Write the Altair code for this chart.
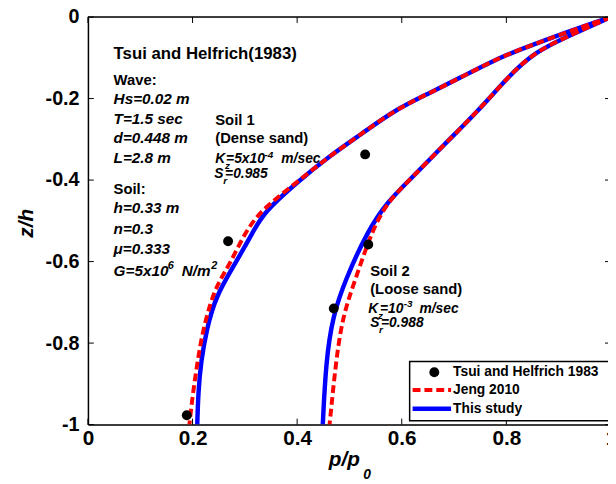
import altair as alt
import pandas as pd

# ---------------- data ----------------
# Soil 1 (dense sand)
s1_study_p = [1.0, 0.92, 0.851, 0.794, 0.713, 0.649, 0.587, 0.524, 0.461, 0.398, 0.336, 0.317, 0.282, 0.244, 0.227, 0.216, 0.211, 0.209]
s1_study_z = [0.0, -0.035, -0.068, -0.095, -0.148, -0.189, -0.228, -0.286, -0.342, -0.407, -0.48, -0.524, -0.604, -0.686, -0.766, -0.846, -0.92, -1.0]
s1_jeng_p = [1.0, 0.92, 0.851, 0.794, 0.713, 0.649, 0.587, 0.524, 0.461, 0.398, 0.33, 0.3, 0.272, 0.25, 0.234, 0.218, 0.209, 0.2, 0.194]
s1_jeng_z = [0.0, -0.035, -0.068, -0.095, -0.148, -0.189, -0.228, -0.286, -0.342, -0.407, -0.475, -0.53, -0.604, -0.65, -0.7, -0.78, -0.85, -0.93, -1.0]
# Soil 2 (loose sand)
s2_study_p = [1.0, 0.932, 0.851, 0.8, 0.744, 0.681, 0.619, 0.574, 0.535, 0.492, 0.468, 0.455, 0.449]
s2_study_z = [0.0, -0.039, -0.087, -0.152, -0.233, -0.313, -0.395, -0.451, -0.524, -0.645, -0.734, -0.846, -1.0]
s2_jeng_p = [1.0, 0.932, 0.851, 0.8, 0.744, 0.681, 0.619, 0.574, 0.543, 0.511, 0.487, 0.474, 0.462]
s2_jeng_z = [0.0, -0.039, -0.087, -0.152, -0.233, -0.313, -0.395, -0.451, -0.524, -0.645, -0.734, -0.846, -1.0]
# Measurements, Tsui and Helfrich 1983
obs_p = [0.189, 0.268, 0.530, 0.536, 0.470]
obs_z = [-0.977, -0.55, -0.337, -0.558, -0.715]

x_ticks = [0, 0.2, 0.4, 0.6, 0.8, 1.0]
y_ticks = [-1.0, -0.8, -0.6, -0.4, -0.2, 0.0]

legend_labels = ["Tsui and Helfrich 1983", "Jeng 2010", "This study"]

FONT = "Liberation Sans"
W, H = 527, 413
XR = 530  # pixel length of the x range (right edge is cut by the page)

# ---------------- tables ----------------
def curve(ps, zs, soil):
    return pd.DataFrame({"p": ps, "z": zs, "soil": soil, "i": range(len(ps))})

study = pd.concat([curve(s1_study_p, s1_study_z, "1"), curve(s2_study_p, s2_study_z, "2")])
jeng = pd.concat([curve(s1_jeng_p, s1_jeng_z, "1"), curve(s2_jeng_p, s2_jeng_z, "2")])
obs = pd.DataFrame({"p": obs_p, "z": obs_z})
xt = pd.DataFrame({"t": x_ticks})
yt = pd.DataFrame({"t": y_ticks})
one = pd.DataFrame({"a": [0]})

xscale = alt.Scale(domain=[0, 1], range=[0, XR], nice=False, zero=False)
yscale = alt.Scale(domain=[-1, 0], nice=False, zero=False)

xaxis = alt.Axis(values=x_ticks, ticks=False, grid=False, domain=True, domainColor="black",
                 domainWidth=1.5, labelFont=FONT, labelFontSize=21, labelFontWeight="bold",
                 labelColor="black", labelPadding=3, title=None, labelFlush=False,
                 labelExpr="replace(format(datum.value, '.1~f'), '\u2212', '-')")
yaxis = alt.Axis(values=y_ticks, ticks=False, grid=False, domain=True, domainColor="black",
                 domainWidth=1.5, labelFont=FONT, labelFontSize=20, labelFontWeight="bold",
                 labelColor="black", labelPadding=9, title=None, labelFlush=False,
                 labelExpr="replace(format(datum.value, '.1~f'), '\u2212', '-')")

blue_line = alt.Chart(study).mark_line(color="#0000ff", strokeWidth=4.5, clip=True,
                                       interpolate="basis").encode(
    x=alt.X("p:Q", scale=xscale, axis=xaxis),
    y=alt.Y("z:Q", scale=yscale, axis=yaxis),
    detail="soil:N",
    order="i:Q",
)
red_line = alt.Chart(jeng).mark_line(color="#ff0000", strokeWidth=4, strokeDash=[8, 4], clip=True,
                                     interpolate="basis").encode(
    x="p:Q", y="z:Q", detail="soil:N", order="i:Q"
)
dots = alt.Chart(obs).mark_circle(color="black", opacity=1, size=100).encode(x="p:Q", y="z:Q")

# inward tick marks on all four sides + top border
tk = 6
t_bottom = alt.Chart(xt).mark_rule(color="black", strokeWidth=1).encode(
    x="t:Q", y=alt.value(H), y2=alt.value(H - tk))
t_top = alt.Chart(xt).mark_rule(color="black", strokeWidth=1).encode(
    x="t:Q", y=alt.value(0), y2=alt.value(tk))
t_left = alt.Chart(yt).mark_rule(color="black", strokeWidth=1).encode(
    y="t:Q", x=alt.value(0), x2=alt.value(tk))
t_right = alt.Chart(yt).mark_rule(color="black", strokeWidth=1).encode(
    y="t:Q", x=alt.value(XR), x2=alt.value(XR - tk))
top_border = alt.Chart(one).mark_rule(color="black", strokeWidth=1.5).encode(
    x=alt.value(0), x2=alt.value(XR + 5), y=alt.value(0))


def txt(s, x, y, size=16, style="normal", weight="bold", angle=0, align="left", baseline="alphabetic"):
    return alt.Chart(one).mark_text(
        text=s, font=FONT, fontSize=size, fontStyle=style, fontWeight=weight,
        align=align, baseline=baseline, angle=angle, color="black"
    ).encode(x=alt.value(x), y=alt.value(y))


I = "italic"
texts = [
    txt("Tsui and Helfrich(1983)", 26, 43, 17),
    txt("Wave:", 26, 69, 15),
    txt("Hs=0.02 m", 26, 88, 15.5, I),
    txt("T=1.5 sec", 26, 108, 15.5, I),
    txt("d=0.448 m", 26, 128, 15.5, I),
    txt("L=2.8 m", 26, 148, 15.5, I),
    txt("Soil:", 26, 179, 15),
    txt("h=0.33 m", 26, 199, 15.5, I),
    txt("n=0.3", 26, 220, 15.5, I),
    txt("\u03bc=0.333", 26, 240, 15.5, I),
    txt("G=5x10", 26, 262, 15.5, I),
    txt("6", 81, 255, 11, I),
    txt("N/m", 95, 262, 15.5, I),
    txt("2", 125, 255, 11, I),
    # Soil 1 block
    txt("Soil 1", 129, 109, 15),
    txt("(Dense sand)", 129, 128, 15),
    txt("K", 129, 148, 14, I),
    txt("z", 139, 154, 10, I),
    txt("=5x10", 140, 148, 14, I),
    txt("-4", 179, 143, 10, I),
    txt("m/sec", 196, 148, 14, I),
    txt("S", 128, 163, 14, I),
    txt("r", 137, 169, 10, I),
    txt("=0.985", 139, 163, 14, I),
    # Soil 2 block
    txt("Soil 2", 286, 262, 15),
    txt("(Loose sand)", 286, 281, 15),
    txt("K", 284, 300, 14, I),
    txt("z", 294, 306, 10, I),
    txt("=10", 296, 300, 14, I),
    txt("-3", 320, 294, 10, I),
    txt("m/sec", 336, 300, 14, I),
    txt("S", 286, 314, 14, I),
    txt("r", 295, 320, 10, I),
    txt("=0.988", 297, 314, 14, I),
    # axis titles
    txt("z/h", -56, 209, 21, I, "bold", angle=270, align="center"),
    txt("p/p", 244, 455, 21, I, "bold"),
    txt("0", 279, 468, 14, I, "bold"),
]

# legend box
leg_box = alt.Chart(one).mark_rect(fill="white", stroke="black", strokeWidth=1.5).encode(
    x=alt.value(326), x2=alt.value(XR + 10), y=alt.value(349), y2=alt.value(409))
leg_dot = alt.Chart(one).mark_circle(color="black", opacity=1, size=100).encode(
    x=alt.value(351), y=alt.value(360))
leg_red = alt.Chart(one).mark_rule(color="#ff0000", strokeWidth=4, strokeDash=[8, 4]).encode(
    x=alt.value(329), x2=alt.value(368), y=alt.value(378))
leg_blue = alt.Chart(one).mark_rule(color="#0000ff", strokeWidth=4.5).encode(
    x=alt.value(329), x2=alt.value(368), y=alt.value(397))
leg_texts = [
    txt(legend_labels[0], 370, 360, 14, baseline="middle"),
    txt(legend_labels[1], 370, 378, 14, baseline="middle"),
    txt(legend_labels[2], 370, 397, 14, baseline="middle"),
]

chart = alt.layer(
    blue_line, red_line, dots,
    t_bottom, t_top, t_left, t_right, top_border,
    *texts,
    leg_box, leg_dot, leg_red, leg_blue, *leg_texts,
).properties(
    width=W, height=H,
    autosize=alt.AutoSizeParams(type="none"),
    padding={"left": 81, "top": 6, "right": 0, "bottom": 55},
).configure_view(stroke=None).configure(background="white")

chart.save("out.html", embed_options={"renderer": "svg", "actions": False})
